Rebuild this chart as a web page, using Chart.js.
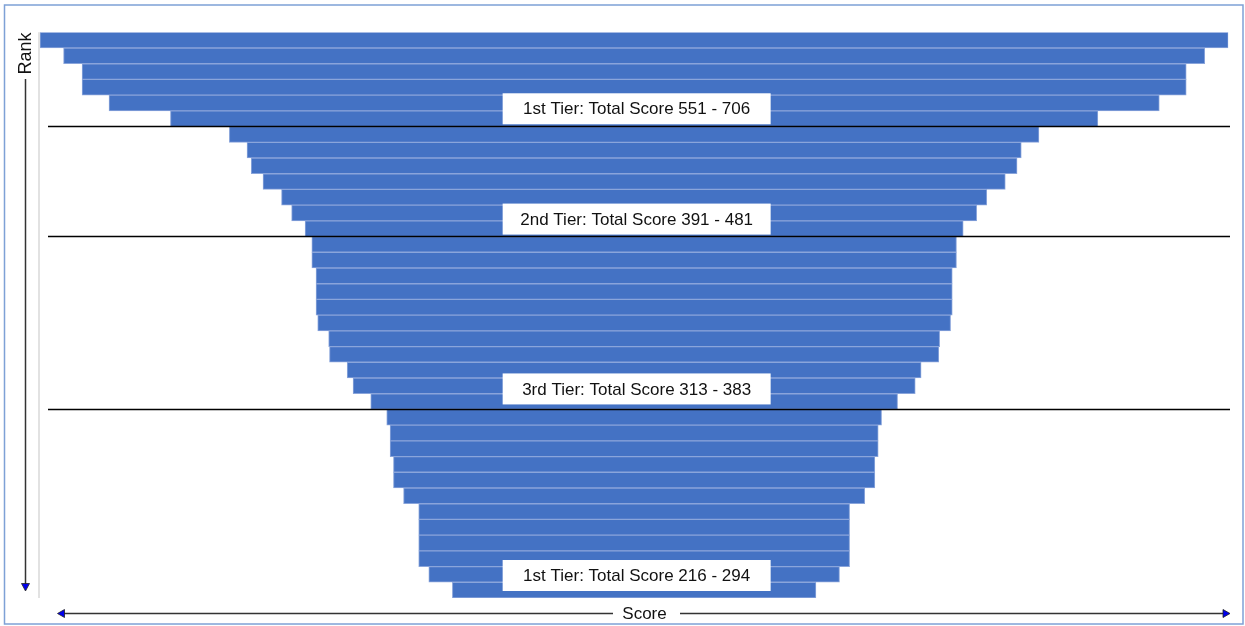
<!DOCTYPE html>
<html>
<head>
<meta charset="utf-8">
<script src="https://cdn.jsdelivr.net/npm/chart.js@4.4.0/dist/chart.umd.min.js"></script>
<style>
  html, body { margin: 0; padding: 0; background: #ffffff; }
  canvas { display: block; }
</style>
</head>
<body>
<canvas id="c" width="1245" height="626"></canvas>
<script>
// ---- data ----
const ranks = ['1','2','3','4','5','6','7','8','9','10','11','12','13','14','15','16','17','18',
               '19','20','21','22','23','24','25','26','27','28','29','30','31','32','33','34','35','36'];
const scores = [706, 678, 656, 656, 624, 551,
                481, 460, 455, 441, 419, 407, 391,
                383, 383, 378, 378, 378, 376, 363, 362, 341, 334, 313,
                294, 290, 290, 286, 286, 274, 256, 256, 256, 256, 244, 216];
const tierLabels = ['1st Tier: Total Score 551 - 706',
                    '2nd Tier: Total Score 391 - 481',
                    '3rd Tier: Total Score 313 - 383',
                    '1st Tier: Total Score 216 - 294'];
const tierLastRank = [6, 13, 24, 36];
const xTitle = 'Score';
const yTitle = 'Rank';

const FONT = '"Liberation Sans", Arial, Helvetica, sans-serif';
const labelGaps = [2.3, 2, 5, 7];

const decor = {
  id: 'decor',
  beforeDraw(chart) {
    const ctx = chart.ctx;
    const a = chart.chartArea;
    ctx.save();
    ctx.fillStyle = '#ffffff';
    ctx.fillRect(0, 0, chart.width, chart.height);
    ctx.strokeStyle = '#7ea1d6';
    ctx.lineWidth = 1.5;
    ctx.strokeRect(4.5, 5, 1238.5, 619);
    ctx.strokeStyle = '#e2e2e2';
    ctx.lineWidth = 2;
    ctx.beginPath();
    ctx.moveTo(a.left - 1, a.top);
    ctx.lineTo(a.left - 1, a.bottom);
    ctx.stroke();
    ctx.restore();
  },
  afterDatasetsDraw(chart) {
    const ctx = chart.ctx;
    const a = chart.chartArea;
    const y = chart.scales.y;
    const x = chart.scales.x;
    const cx = x.getPixelForValue(0);
    ctx.save();
    const bounds = [];
    tierLastRank.forEach((r, i) => {
      const yb = (i === tierLastRank.length - 1) ? a.bottom
               : (y.getPixelForValue(r - 1) + y.getPixelForValue(r)) / 2;
      bounds.push(yb);
      if (i < tierLastRank.length - 1) {
        ctx.strokeStyle = '#000000';
        ctx.lineWidth = 1.5;
        ctx.beginPath();
        ctx.moveTo(48, yb);
        ctx.lineTo(1230, yb);
        ctx.stroke();
      }
    });
    ctx.font = '17px ' + FONT;
    ctx.textAlign = 'center';
    ctx.textBaseline = 'middle';
    tierLabels.forEach((t, i) => {
      const bottom = bounds[i] - labelGaps[i];
      const h = 31, w = 268;
      const bx = cx + 2.5 - w / 2;
      ctx.fillStyle = '#ffffff';
      ctx.fillRect(bx, bottom - h, w, h);
      ctx.fillStyle = '#111111';
      ctx.fillText(t, cx + 2.5, bottom - h / 2 + 1);
    });

    ctx.strokeStyle = '#333333';
    ctx.lineWidth = 1.5;
    ctx.beginPath();
    ctx.moveTo(25.5, 79);
    ctx.lineTo(25.5, 584);
    ctx.stroke();
    ctx.fillStyle = '#0000ee';
    ctx.strokeStyle = '#222';
    ctx.lineWidth = 0.8;
    ctx.beginPath();
    ctx.moveTo(21.5, 583.5);
    ctx.lineTo(29.5, 583.5);
    ctx.lineTo(25.5, 591);
    ctx.closePath();
    ctx.fill();
    ctx.stroke();
    ctx.save();
    ctx.translate(26, 53.5);
    ctx.rotate(-Math.PI / 2);
    ctx.font = '18px ' + FONT;
    ctx.fillStyle = '#111';
    ctx.textAlign = 'center';
    ctx.textBaseline = 'middle';
    ctx.fillText(yTitle, 0, 0);
    ctx.restore();

    const ly = 613.5;
    ctx.strokeStyle = '#333333';
    ctx.lineWidth = 1.5;
    ctx.beginPath();
    ctx.moveTo(64, ly); ctx.lineTo(613, ly);
    ctx.moveTo(680, ly); ctx.lineTo(1224, ly);
    ctx.stroke();
    ctx.fillStyle = '#0000ee';
    ctx.strokeStyle = '#222';
    ctx.lineWidth = 0.8;
    ctx.beginPath();
    ctx.moveTo(64.5, ly - 4); ctx.lineTo(64.5, ly + 4); ctx.lineTo(57.5, ly); ctx.closePath();
    ctx.fill(); ctx.stroke();
    ctx.beginPath();
    ctx.moveTo(1223, ly - 4); ctx.lineTo(1223, ly + 4); ctx.lineTo(1230, ly); ctx.closePath();
    ctx.fill(); ctx.stroke();
    ctx.font = '17px ' + FONT;
    ctx.fillStyle = '#111';
    ctx.textAlign = 'center';
    ctx.textBaseline = 'middle';
    ctx.fillText(xTitle, 644.5, ly + 1);
    ctx.restore();
  }
};

const half = Math.max(...scores) / 2;

new Chart(document.getElementById('c'), {
  type: 'bar',
  data: {
    labels: ranks,
    datasets: [{
      label: 'Total Score',
      data: scores.map(v => [-v / 2, v / 2]),
      backgroundColor: '#4472c4',
      borderColor: '#8aa5db',
      borderWidth: 1,
      borderSkipped: false,
      barPercentage: 1,
      categoryPercentage: 1
    }]
  },
  options: {
    indexAxis: 'y',
    responsive: false,
    devicePixelRatio: 1,
    animation: false,
    layout: { padding: { left: 40, right: 16.7, top: 32.3, bottom: 28 } },
    scales: {
      x: { display: false, min: -half, max: half },
      y: { display: false }
    },
    plugins: {
      legend: { display: false },
      tooltip: { enabled: false }
    }
  },
  plugins: [decor]
});
</script>
</body>
</html>
